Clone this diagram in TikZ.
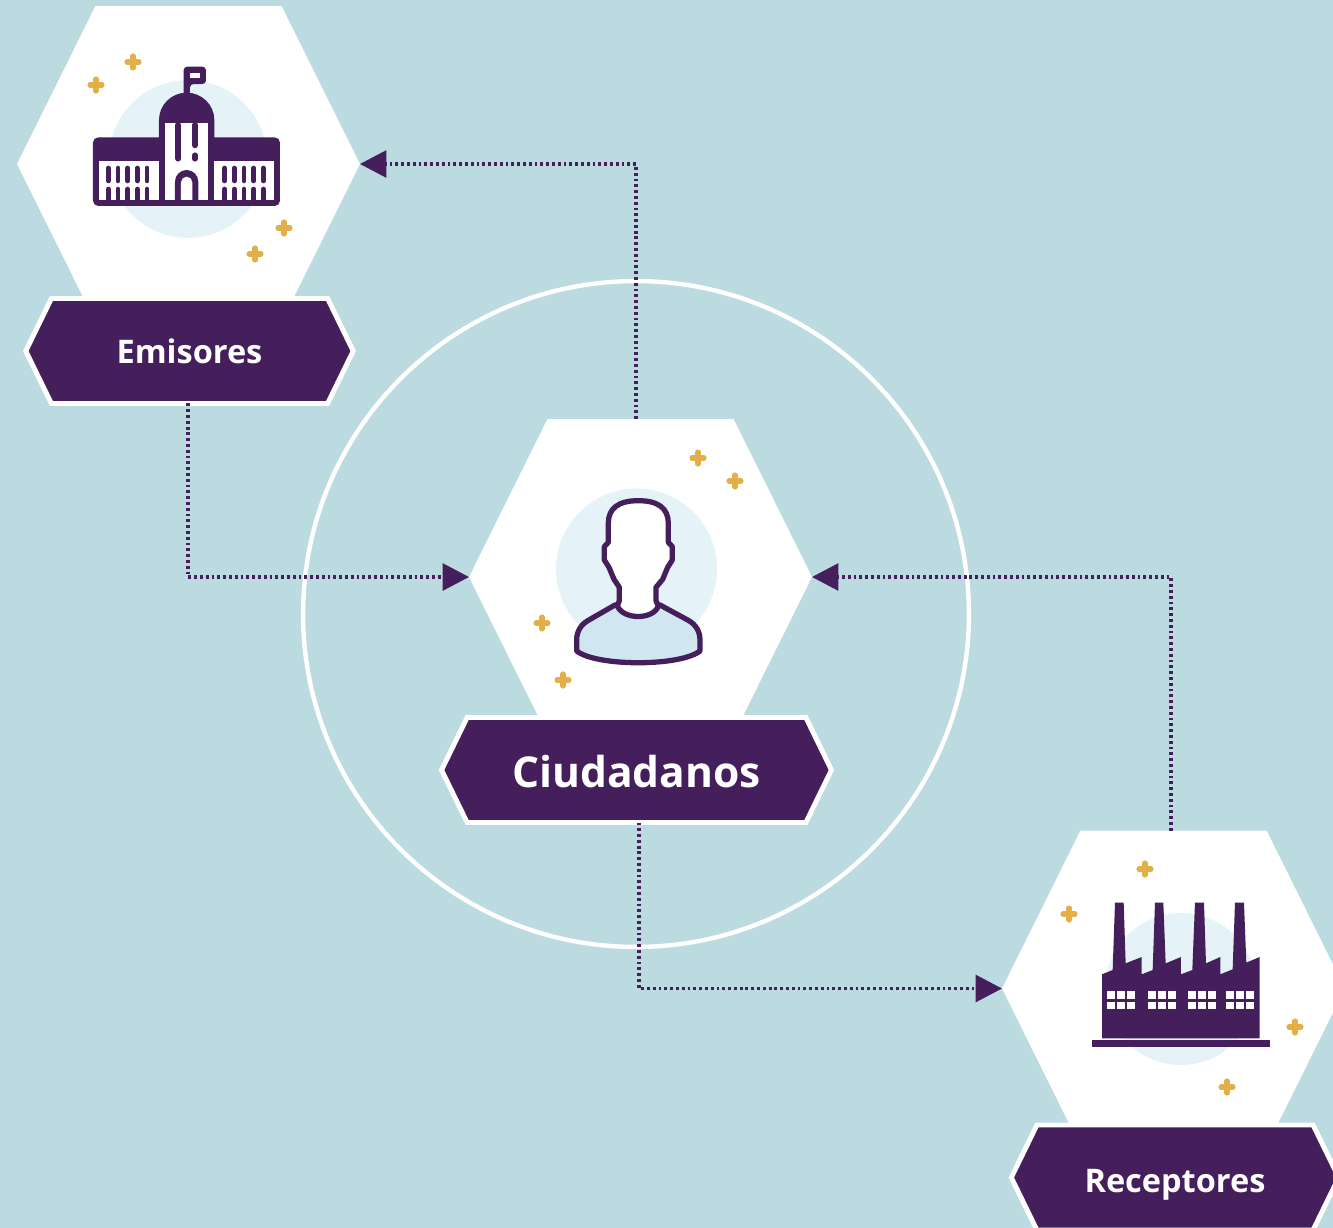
\documentclass[tikz,border=0pt]{standalone}
\usepackage{fontspec}
\setmainfont{Open Sans}
\usetikzlibrary{arrows.meta,shapes.symbols}
\definecolor{backdrop}{RGB}{188,219,225}
\definecolor{plum}{RGB}{69,31,91}
\definecolor{halo}{RGB}{229,243,249}
\definecolor{chest}{RGB}{208,231,241}
\definecolor{gold}{RGB}{226,176,70}

\begin{document}
\begin{tikzpicture}[x=0.02cm,y=-0.02cm,
    every node/.style={inner sep=0pt,outer sep=0pt},
    hex/.style={signal,signal to=east and west,signal pointer angle=127.2,
        minimum width=6.86cm,minimum height=6.32cm,fill=white},
    tag/.style={signal,signal to=east and west,signal pointer angle=128,
        minimum height=2.1cm,fill=plum,draw=white,line width=2.8pt,text=white,text depth=0pt,text height=14.7pt,
        font=\bfseries\fontsize{18.5}{20}\selectfont},
    halocirc/.style={circle,minimum size=3.16cm,fill=halo},
    ring/.style={circle,minimum size=13.32cm,draw=white,line width=2.5pt},
    link/.style={plum,line width=1.8pt,dash pattern=on 1.6pt off 1.7pt,-{Triangle[length=0.53cm,width=0.54cm]}},
    sparkle/.style={gold,line width=2.9pt,line cap=round},
    ink/.style={fill=plum},
    punch/.style={fill=white}]

    \useasboundingbox (0,0) rectangle (1333,1228);
    \clip (0,0) rectangle (1333,1228);
    \fill[backdrop] (0,0) rectangle (1333,1228);

    \node[ring] (ring) at (636,614) {};

    \node[hex] (emisores) at (188.5,164) {};
    \node[hex] (ciudadanos) at (640.5,577) {};
    \node[hex] (receptores) at (1173.5,988.5) {};

    \node[halocirc] (halo1) at (188,159) {};
    \node[halocirc,minimum size=3.22cm] (halo2) at (636.5,569) {};
    \node[halocirc,minimum size=3.04cm] (halo3) at (1181,989) {};

    \foreach \x/\y in {96/85,133/62,255/254,284/228,698/458,735/481,542/623,563/680,1145/869,1069/914,1295/1027,1227/1087}
        \draw[sparkle] (\x,\y) +(-6,0) -- +(6,0) +(0,-6) -- +(0,6);

    \node[tag] (emisores tag) at (189.5,351) [minimum width=6.55cm] {Emisores};
    \node[tag,text height=20pt,font=\bfseries\fontsize{24.2}{28}\selectfont] (ciudadanos tag) at (636.5,770) [minimum width=7.8cm] {Ciudadanos};
    \node[tag,text height=16.5pt] (receptores tag) at (1175,1177.5) [minimum width=6.55cm] {Receptores};

    % building
    \begin{scope}[shift={(80,50)},scale=0.3333]
        \fill[ink,rounded corners=3pt] (39,262) rectangle (600,468);
        \fill[ink] (237,270) -- (237,210) arc[start angle=180,end angle=360,x radius=83,y radius=82] -- (403,270) -- cycle;
        \fill[ink,rounded corners=2pt] (311,140) -- (311,50) -- (378,50) -- (378,102) -- (330,102) -- (330,140) -- cycle;
        \fill[punch] (329,69) rectangle (360,85);
        \fill[punch] (57,332) rectangle (237,450);
        \fill[punch] (403,332) rectangle (582,450);
        \fill[punch] (255,220) rectangle (385,450);
        \foreach \c in {85,114,143,172,201,434,463,492,521,550} {
            \draw[plum,line width=2.6pt,line cap=round] (\c,354) -- (\c,393);
            \draw[plum,line width=2.6pt,line cap=butt] (\c,417) -- (\c,450);
            \draw[plum,line width=2.6pt,line cap=round] (\c,417) -- (\c,440);
        }
        \draw[plum,line width=3.3pt,line cap=round] (295,225) -- (295,326);
        \draw[plum,line width=3.3pt,line cap=round] (345,225) -- (345,286);
        \draw[plum,line width=3.3pt,line cap=round] (345,316) -- (345,326);
        \fill[ink] (285,450) -- (285,395) arc[start angle=180,end angle=360,x radius=35,y radius=35] -- (355,450) -- cycle;
        \fill[punch] (303,450) -- (303,397) arc[start angle=180,end angle=360,x radius=17,y radius=17] -- (337,450) -- cycle;
    \end{scope}

    % person
    \begin{scope}[shift={(540,480)},scale=0.3333]
        \filldraw[chest,draw=plum,line width=3pt,line join=round] (225,375) -- (145,421) .. controls (122,434) and (110,455) .. (110,480) -- (110,513) .. controls (170,560) and (420,560) .. (480,513) -- (480,480) .. controls (480,455) and (468,434) .. (445,421) -- (360,375) -- cycle;
        \filldraw[white,draw=plum,line width=3pt,line join=round] (295,62) .. controls (235,62) and (205,85) .. (205,130) -- (205,187) -- (193,200) -- (193,240) -- (207,262) -- (222,298) -- (238,322) -- (238,362) -- (232,378) .. controls (250,420) and (340,420) .. (355,378) -- (348,362) -- (348,322) -- (368,298) -- (383,262) -- (397,240) -- (397,200) -- (385,187) -- (385,130) .. controls (385,85) and (355,62) .. (295,62) -- cycle;
    \end{scope}

    % factory
    \begin{scope}[shift={(1080,890)},scale=0.3333]
        \fill[ink] (36,450) rectangle (570,470);
        \fill[ink] (66,445) -- (66,253) -- (98,240) -- (105,38) -- (131,38) -- (137,220) -- (185,201) -- (185,253) -- (218,240) -- (225,38) -- (250,38) -- (257,220) -- (303,201) -- (303,253) -- (337,240) -- (345,38) -- (372,38) -- (378,220) -- (421,201) -- (421,253) -- (458,238) -- (465,38) -- (492,38) -- (499,218) -- (539,201) -- (539,445) -- cycle;
        \foreach \c in {81,204,324,438}
            \foreach \d in {0,30,60} {
                \fill[punch] (\c+\d,303) rectangle (\c+\d+24,327);
                \fill[punch] (\c+\d,336) rectangle (\c+\d+24,358);
            }
    \end{scope}

    \draw[link] ([xshift=-0.09cm]ciudadanos.north) |- (emisores.east);
    \draw[link] ([xshift=-0.03cm]emisores tag.south) |- (ciudadanos.west);
    \draw[link] ([xshift=-0.05cm]receptores.north) |- (ciudadanos.east);
    \draw[link] ([xshift=0.05cm]ciudadanos tag.south) |- (receptores.west);
\end{tikzpicture}
\end{document}
